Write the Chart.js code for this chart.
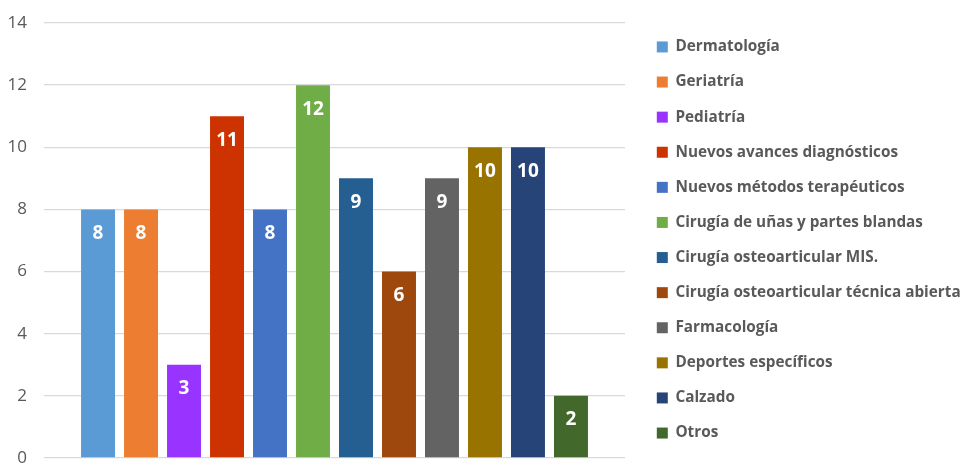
<!DOCTYPE html>
<html>
<head>
<meta charset="utf-8">
<script src="https://cdn.jsdelivr.net/npm/chart.js@4"></script>
<style>
  html, body { margin: 0; padding: 0; background: #fff; overflow: hidden; }
  #wrap { width: 960px; height: 470px; }
</style>
</head>
<body>
<div id="wrap"><canvas id="grafico"></canvas></div>
<script>
const categorias = [
  "Dermatología",
  "Geriatría",
  "Pediatría",
  "Nuevos avances diagnósticos",
  "Nuevos métodos terapéuticos",
  "Cirugía de uñas y partes blandas",
  "Cirugía osteoarticular MIS.",
  "Cirugía osteoarticular técnica abierta.",
  "Farmacología",
  "Deportes específicos",
  "Calzado",
  "Otros"
];
const valores = [8, 8, 3, 11, 8, 12, 9, 6, 9, 10, 10, 2];
const colores = [
  "#5B9BD5", "#ED7D31", "#9933FF", "#CC3300", "#4472C4", "#70AD47",
  "#255E91", "#9E480E", "#636363", "#997300", "#264478", "#43682B"
];
const ticksY = { min: 0, max: 14, paso: 2 };

const fuente = "'Open Sans', 'Liberation Sans', sans-serif";

// etiquetas blancas dentro de cada barra
const etiquetas = {
  id: "etiquetas",
  afterDatasetsDraw(chart) {
    const ctx = chart.ctx;
    ctx.save();
    ctx.fillStyle = "#fff";
    ctx.font = "bold 19px " + fuente;
    ctx.textAlign = "center";
    ctx.textBaseline = "middle";
    chart.data.datasets.forEach((ds, i) => {
      const bar = chart.getDatasetMeta(i).data[0];
      ctx.fillText(String(ds.data[0]), bar.x, bar.y + 24);
    });
    ctx.restore();
  }
};

const datasets = categorias.map((c, i) => ({
  label: c,
  data: [valores[i]],
  backgroundColor: colores[i],
  xAxisID: "x",
  yAxisID: "y"
}));

new Chart(document.getElementById("grafico"), {
  type: "bar",
  data: { labels: [""], datasets },
  options: {
    responsive: true,
    maintainAspectRatio: false,
    animation: false,
    categoryPercentage: 0.888,
    barPercentage: 0.79,
    layout: { padding: { top: 15, bottom: 5, left: 0, right: 0 } },
    plugins: {
      tooltip: { enabled: false },
      legend: {
        position: "right",
        align: "center",
        maxWidth: 323,
        labels: {
          boxWidth: 11,
          boxHeight: 11,
          padding: 19.8,
          color: "#595959",
          font: { family: fuente, size: 15.3, weight: "bold" }
        }
      }
    },
    scales: {
      x: {
        display: true,
        grid: { display: false },
        border: { display: false },
        ticks: { display: false },
        afterFit(s) { s.height = 7; }
      },
      arriba: {
        type: "linear",
        axis: "x",
        position: "top",
        display: true,
        grid: { display: false },
        border: { display: false },
        ticks: { display: false },
        afterFit(s) { s.height = 8; }
      },
      y: {
        min: ticksY.min,
        max: ticksY.max,
        ticks: {
          stepSize: ticksY.paso,
          padding: 0,
          color: "#595959",
          font: { family: fuente, size: 17 }
        },
        grid: { color: "#d9d9d9", lineWidth: 1.3, drawTicks: true, tickLength: 17, tickColor: "rgba(0,0,0,0)" },
        border: { display: false },
        afterFit(s) { s.width = 44; }
      },
      hueco: {
        type: "linear",
        axis: "y",
        position: "right",
        display: true,
        grid: { display: false },
        border: { display: false },
        ticks: { display: false },
        afterFit(s) { s.width = 12; }
      }
    }
  },
  plugins: [etiquetas]
});
</script>
</body>
</html>
